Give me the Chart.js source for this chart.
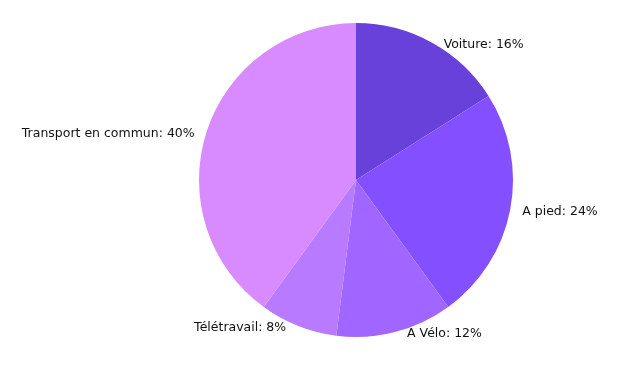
<!DOCTYPE html>
<html>
<head>
<meta charset="utf-8">
<script src="https://cdn.jsdelivr.net/npm/chart.js@4"></script>
<style>
  html, body { margin: 0; padding: 0; background: #fff; }
  #wrap { width: 632px; height: 375px; }
</style>
</head>
<body>
<div id="wrap"><canvas id="pieChart"></canvas></div>
<script>
// modes de transport
var labels = ['Voiture', 'A pied', 'A Vélo', 'Télétravail', 'Transport en commun'];
var values = [16, 24, 12, 8, 40];
var colors = ['#6741d9', '#8450ff', '#a066ff', '#b87bff', '#d88bff'];

// draw "label: xx%" just outside each slice
var outsideLabels = {
    id: 'outsideLabels',
    afterDatasetsDraw: function(chart) {
        var ctx = chart.ctx;
        var meta = chart.getDatasetMeta(0);
        ctx.save();
        ctx.font = '12.5px "DejaVu Sans", Verdana, sans-serif';
        ctx.fillStyle = '#111';
        ctx.textBaseline = 'middle';
        meta.data.forEach(function(arc, i) {
            var mid = (arc.startAngle + arc.endAngle) / 2;
            var x = arc.x + Math.cos(mid) * arc.outerRadius;
            var y = arc.y + Math.sin(mid) * arc.outerRadius;
            var right = x >= arc.x;
            ctx.textAlign = right ? 'left' : 'right';
            ctx.fillText(labels[i] + ': ' + values[i] + '%', x + (right ? 12 : -12), y + 2);
        });
        ctx.restore();
    }
};

var ctx = document.getElementById('pieChart').getContext('2d');
var chart = new Chart(ctx, {
    type: 'pie',
    data: {
        labels: labels,
        datasets: [{
            data: values,
            backgroundColor: colors,
            borderWidth: 0
        }]
    },
    options: {
        responsive: true,
        maintainAspectRatio: false,
        animation: false,
        layout: { padding: { top: 23, bottom: 38, left: 80, right: 0 } },
        plugins: {
            legend: { display: false },
            tooltip: { enabled: false }
        }
    },
    plugins: [outsideLabels]
});
</script>
</body>
</html>
